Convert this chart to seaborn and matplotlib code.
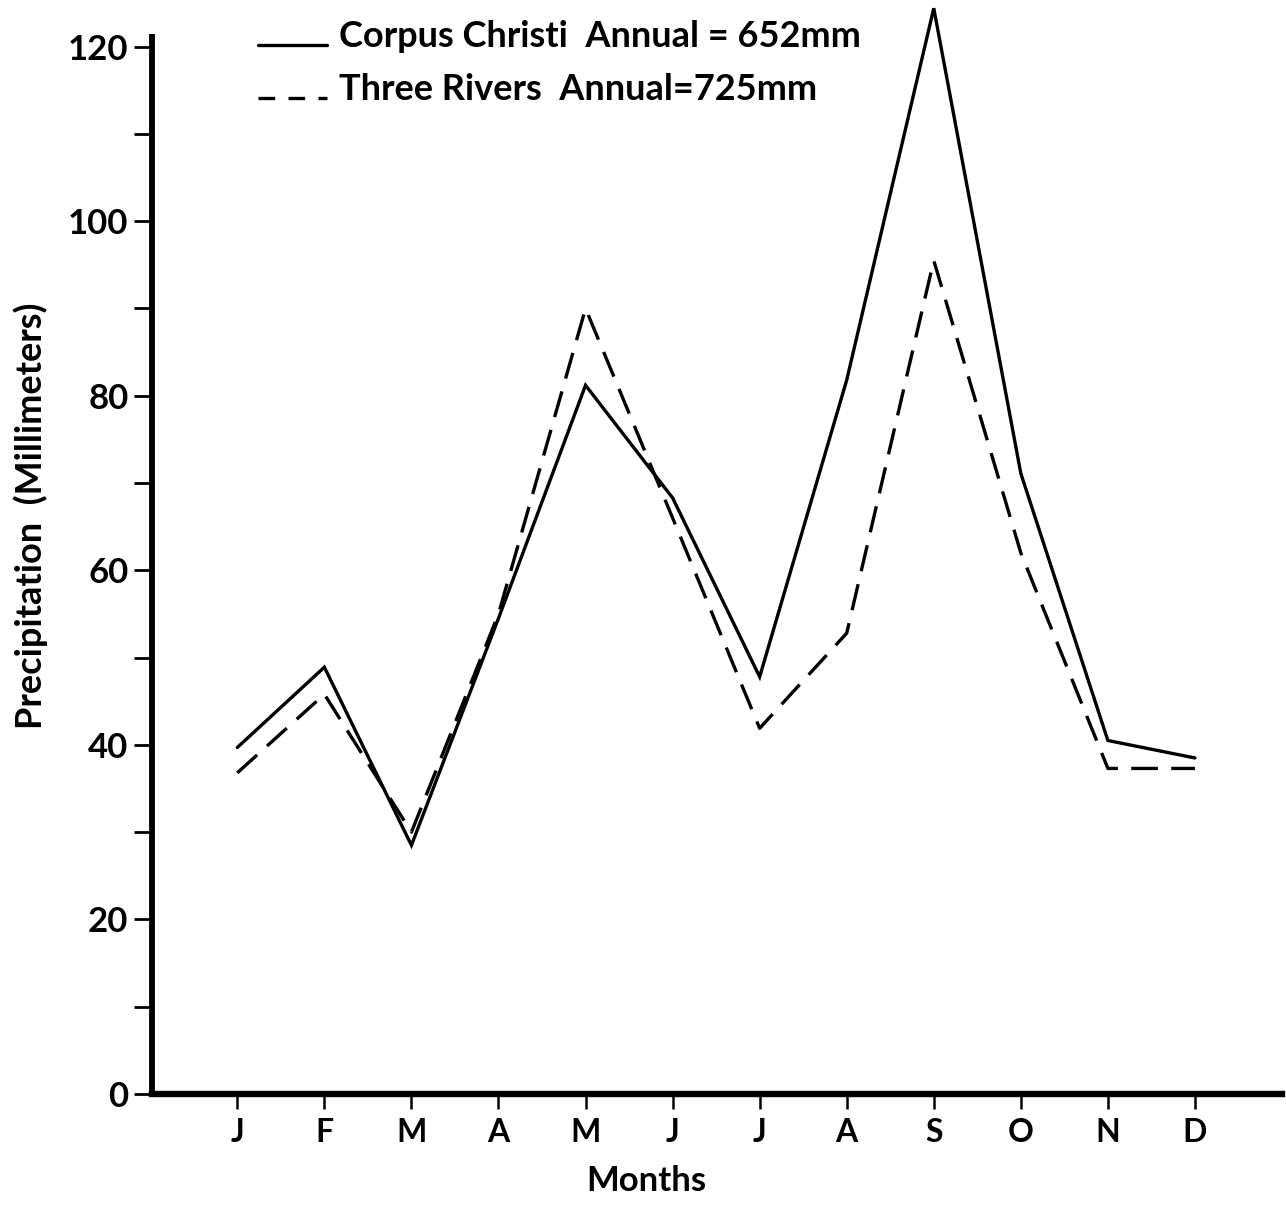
import matplotlib
matplotlib.use("Agg")
import matplotlib.pyplot as plt
import numpy as np
import pandas as pd
import seaborn as sns
from matplotlib.lines import Line2D
from matplotlib.legend_handler import HandlerLine2D
from matplotlib.ticker import MultipleLocator

# Monthly precipitation (mm)
months = ["J", "F", "M", "A", "M", "J", "J", "A", "S", "O", "N", "D"]
corpus_christi = [39.7, 48.9, 28.5, 54.5, 81.2, 68.3, 47.8, 81.8, 124.4, 71.1, 40.5, 38.5]
three_rivers = [36.8, 45.8, 30.0, 55.0, 90.0, 66.0, 41.9, 52.8, 95.5, 62.0, 37.3, 37.3]
station_labels = ["Corpus Christi  Annual = 652mm", "Three Rivers  Annual=725mm"]
y_ticks = [0, 20, 40, 60, 80, 100, 120]

sns.set_style("ticks")
plt.rcParams["font.family"] = ["Lato", "DejaVu Sans"]
plt.rcParams["font.weight"] = "bold"
plt.rcParams["axes.labelweight"] = "bold"
for key in ("text.color", "axes.labelcolor", "xtick.color", "ytick.color",
            "axes.edgecolor"):
    plt.rcParams[key] = "black"


class BaselineLineHandler(HandlerLine2D):
    """Legend sample drawn along the text baseline rather than mid-height."""

    def create_artists(self, legend, orig_handle, xdescent, ydescent,
                       width, height, fontsize, trans):
        artists = super().create_artists(legend, orig_handle, xdescent, ydescent,
                                         width, height, fontsize, trans)
        for art in artists:
            art.set_ydata(np.asarray(art.get_ydata(), dtype=float) - 0.42 * height)
        return artists


idx = np.arange(len(months))
df = pd.DataFrame({
    "month": np.concatenate([idx, idx]),
    "mm": corpus_christi + three_rivers,
    "station": [station_labels[0]] * len(months) + [station_labels[1]] * len(months),
})

fig = plt.figure(figsize=(12.86, 12.26), dpi=100)
ax = fig.add_axes([152 / 1286, 1 - 1094 / 1226, 1130 / 1286, 1091 / 1226])

lw = 2.4
dash = (8, 4)
sns.lineplot(data=df, x="month", y="mm", style="station",
             dashes={station_labels[0]: "", station_labels[1]: dash},
             color="black", linewidth=lw, errorbar=None, legend=False, ax=ax)
for ln in ax.lines:
    ln.set_clip_on(False)
    ln.set_solid_joinstyle("miter")

ax.set_xlim(-0.98, 12.0)
ax.set_ylim(0, 125)
ax.set_xticks(idx)
ax.set_xticklabels(months)
ax.set_yticks(y_ticks)
ax.yaxis.set_minor_locator(MultipleLocator(10))

for side in ("top", "right"):
    ax.spines[side].set_visible(False)
ax.spines["left"].set_linewidth(4.2)
ax.spines["bottom"].set_linewidth(4.6)
ax.spines["left"].set_bounds(0, 121.5)
ax.spines["left"].set_capstyle("butt")

ax.tick_params(axis="y", which="both", direction="out", length=13, width=2.0,
               labelsize=25, pad=4)
ax.tick_params(axis="x", which="major", direction="out", length=11, width=1.8,
               labelsize=23, pad=6)

ax.set_xlabel("Months", fontsize=25)
ax.set_ylabel("Precipitation  (Millimeters)", fontsize=26)
ax.xaxis.set_label_coords((646 - 152) / 1130, -0.065)
ax.yaxis.set_label_coords((48 - 152) / 1130, 0.53)

handles = [
    Line2D([], [], color="black", lw=lw, ls="-"),
    Line2D([], [], color="black", lw=lw, dashes=(5, 4)),
]
fig.legend(handles, station_labels, loc="upper left",
           bbox_to_anchor=(258 / 1286, 1 - 20 / 1226),
           frameon=False, fontsize=26, handlelength=1.9, handletextpad=0.35,
           labelspacing=0.55, borderpad=0, borderaxespad=0,
           handler_map={Line2D: BaselineLineHandler()})

fig.savefig("out.png", dpi=100, facecolor="white")
